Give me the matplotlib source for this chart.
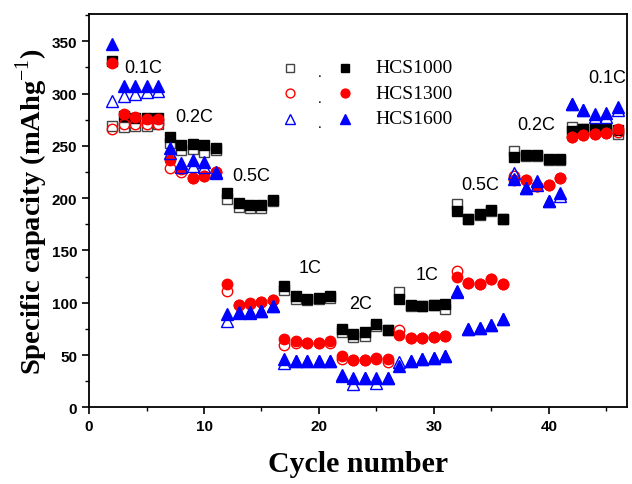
import matplotlib
matplotlib.use("Agg")
import matplotlib.pyplot as plt

plt.rcParams["mathtext.fontset"] = "custom"
plt.rcParams["mathtext.rm"] = "Liberation Serif"
plt.rcParams["mathtext.bf"] = "Liberation Serif:bold"

cycles = list(range(2, 47))

# HCS1000
hcs1000_open = [269, 268, 269, 269, 271,
                253, 246, 247, 244, 246,
                199, 192, 191, 191, 197,
                112, 104, 103, 104, 105,
                72, 67, 68, 78, 74,
                110, 97, 97, 98, 94,
                194, 180, 184, 188, 180,
                245, 240, 240, 236, 236,
                268, 266, 266, 266, 261]
hcs1000_fill = [331, 279, 277, 277, 277,
                258, 251, 252, 251, 248,
                205, 195, 193, 193, 198,
                116, 106, 104, 105, 106,
                75, 70, 72, 80, 74,
                104, 98, 97, 98, 99,
                188, 180, 185, 189, 180,
                239, 241, 241, 237, 237,
                264, 266, 266, 266, 265]
# HCS1300
hcs1300_open = [266, 271, 271, 271, 271,
                229, 225, 219, 221, 225,
                111, 98, 99, 101, 103,
                60, 62, 62, 62, 62,
                46, 45, 45, 46, 43,
                74, 66, 66, 67, 68,
                130, 119, 118, 123, 118,
                221, 217, 212, 213, 219,
                258, 260, 261, 262, 263]
hcs1300_fill = [329, 280, 278, 276, 276,
                236, 228, 219, 221, 225,
                118, 98, 100, 101, 103,
                65, 63, 62, 62, 63,
                49, 45, 45, 47, 46,
                69, 66, 66, 67, 68,
                125, 119, 118, 123, 118,
                217, 217, 212, 213, 219,
                258, 260, 261, 262, 266]
# HCS1600
hcs1600_open = [293, 298, 300, 301, 302,
                243, 230, 231, 230, 224,
                83, 90, 90, 92, 97,
                42, 44, 44, 44, 44,
                30, 22, 28, 23, 28,
                43, 44, 46, 47, 49,
                111, 75, 76, 79, 84,
                224, 210, 213, 197, 202,
                290, 284, 278, 278, 284]
hcs1600_fill = [347, 307, 307, 307, 307,
                248, 234, 236, 235, 225,
                89, 91, 91, 92, 97,
                46, 44, 44, 44, 44,
                31, 28, 28, 28, 28,
                40, 44, 46, 47, 49,
                110, 75, 76, 79, 84,
                218, 210, 216, 197, 205,
                290, 284, 280, 281, 287]

rate_labels = ["0.1C", "0.2C", "0.5C", "1C", "2C", "1C", "0.5C", "0.2C", "0.1C"]
rate_label_x = [4.7, 9.1, 14.1, 19.2, 23.6, 29.4, 34.0, 38.9, 45.1]
rate_label_y = [325, 278, 222, 134, 99, 127, 213, 270, 315]

names = ["HCS1000", "HCS1300", "HCS1600"]
colors = ["black", "red", "blue"]
markers = ["s", "o", "^"]
sizes = [7, 7.5, 8]
open_edge = ["#444444", "red", "blue"]

fig = plt.figure(figsize=(6.32, 4.85), dpi=100)
ax = fig.add_axes([0.141, 0.158, 0.851, 0.811])

series = [(hcs1000_open, hcs1000_fill), (hcs1300_open, hcs1300_fill),
          (hcs1600_open, hcs1600_fill)]
for (op, fl), c, m, ms, ec in zip(series, colors, markers, sizes, open_edge):
    ax.plot(cycles, op, linestyle="none", marker=m, ms=ms, mfc="none",
            mec=ec, mew=1.0)
    ax.plot(cycles, fl, linestyle="none", marker=m, ms=ms, mfc=c, mec=c)

for lab, x, y in zip(rate_labels, rate_label_x, rate_label_y):
    ax.text(x, y, lab, ha="center", va="center", fontsize=13,
            family="Liberation Sans")

# legend built by hand (open . filled  name)
leg_y = [0.864, 0.798, 0.734]
for n, c, m, ms, ec, y in zip(names, colors, markers, sizes, open_edge, leg_y):
    ax.plot([0.3736], [y], transform=ax.transAxes, marker=m, ms=ms * 0.85,
            mfc="none", mec=ec, mew=1.0, linestyle="none")
    ax.text(0.429, y - 0.012, ".", transform=ax.transAxes, ha="center",
            va="center", fontsize=11, family="Liberation Serif")
    ax.plot([0.476], [y], transform=ax.transAxes, marker=m, ms=ms * 0.85,
            mfc=c, mec=c, linestyle="none")
    ax.text(0.533, y, n, transform=ax.transAxes, ha="left", va="center",
            fontsize=14, family="Liberation Serif")

ax.set_xlim(0, 46.8)
ax.set_ylim(0, 376)
ax.set_xticks([0, 10, 20, 30, 40])
ax.set_xticks([5, 15, 25, 35, 45], minor=True)
ax.set_yticks(range(0, 351, 50))
ax.set_yticks(range(25, 376, 50), minor=True)
ax.tick_params(which="major", direction="out", length=5, width=1.2)
ax.tick_params(which="minor", direction="out", length=3, width=1.0)
for lab in ax.get_xticklabels() + ax.get_yticklabels():
    lab.set_fontweight("bold")
    lab.set_fontsize(11)
    lab.set_family("Liberation Sans")
for sp in ax.spines.values():
    sp.set_linewidth(1.3)

ax.set_xlabel("Cycle number", fontsize=21.5, fontweight="bold",
              family="Liberation Serif", labelpad=12)
ax.set_ylabel(r"Specific capacity (mAhg$^{-1}$)", fontsize=20.5,
              fontweight="bold", family="Liberation Serif", labelpad=1)

fig.savefig("out.png", dpi=100)
